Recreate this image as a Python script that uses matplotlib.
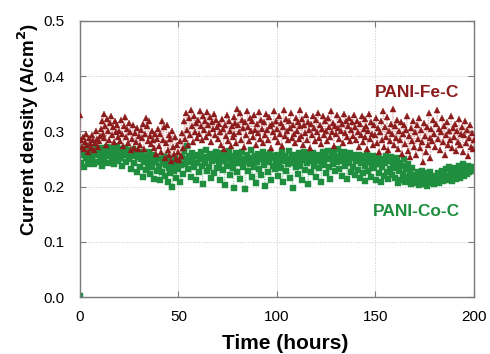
import matplotlib
matplotlib.use("Agg")
import matplotlib.pyplot as plt
import numpy as np

plt.rcParams['font.family'] = ['Liberation Sans', 'DejaVu Sans']

# sampling every half hour, 0 .. 200 h
time_h = np.arange(0, 200.5, 0.5)

# PANI-Fe-C current density (A/cm2)
fe_c = [
    0.330, 0.285, 0.272, 0.290, 0.268, 0.281, 0.295, 0.276, 0.262, 0.288, 0.279, 0.270, 0.293, 0.284, 0.266, 0.278, 0.300, 0.287, 0.271, 0.282,
    0.292, 0.305, 0.318, 0.296, 0.331, 0.288, 0.310, 0.276, 0.322, 0.300, 0.285, 0.315, 0.327, 0.293, 0.308, 0.280, 0.319, 0.298, 0.312, 0.289,
    0.301, 0.283, 0.320, 0.295, 0.273, 0.310, 0.326, 0.290, 0.304, 0.278, 0.315, 0.299, 0.266, 0.286, 0.312, 0.270, 0.297, 0.281, 0.306, 0.268,
    0.292, 0.275, 0.303, 0.288, 0.314, 0.268, 0.296, 0.325, 0.309, 0.282, 0.318, 0.291, 0.277, 0.300, 0.284, 0.270, 0.295, 0.259, 0.287, 0.305,
    0.273, 0.296, 0.262, 0.318, 0.284, 0.308, 0.251, 0.279, 0.312, 0.266, 0.294, 0.257, 0.287, 0.246, 0.301, 0.272, 0.259, 0.290, 0.249, 0.276,
    0.262, 0.248, 0.283, 0.255, 0.297, 0.270, 0.318, 0.286, 0.334, 0.302, 0.276, 0.324, 0.293, 0.339, 0.309, 0.281, 0.327, 0.298, 0.315, 0.288,
    0.321, 0.296, 0.337, 0.310, 0.284, 0.328, 0.303, 0.319, 0.290, 0.335, 0.312, 0.297, 0.326, 0.281, 0.316, 0.304, 0.332, 0.293, 0.320, 0.308,
    0.287, 0.314, 0.299, 0.276, 0.322, 0.305, 0.268, 0.311, 0.292, 0.330, 0.283, 0.318, 0.301, 0.274, 0.309, 0.289, 0.326, 0.296, 0.315, 0.279,
    0.341, 0.312, 0.298, 0.333, 0.285, 0.320, 0.306, 0.272, 0.316, 0.294, 0.337, 0.308, 0.282, 0.324, 0.300, 0.318, 0.290, 0.329, 0.303, 0.276,
    0.313, 0.297, 0.335, 0.286, 0.321, 0.305, 0.279, 0.317, 0.293, 0.331, 0.302, 0.284, 0.326, 0.310, 0.270, 0.314, 0.298, 0.336, 0.289, 0.319,
    0.304, 0.281, 0.327, 0.296, 0.315, 0.273, 0.308, 0.338, 0.291, 0.322, 0.300, 0.284, 0.318, 0.306, 0.333, 0.288, 0.312, 0.295, 0.278, 0.325,
    0.301, 0.316, 0.287, 0.339, 0.309, 0.292, 0.323, 0.275, 0.311, 0.297, 0.330, 0.285, 0.317, 0.303, 0.269, 0.314, 0.294, 0.328, 0.306, 0.283,
    0.320, 0.298, 0.334, 0.288, 0.312, 0.277, 0.305, 0.327, 0.293, 0.318, 0.301, 0.282, 0.324, 0.308, 0.290, 0.336, 0.299, 0.315, 0.274, 0.310,
    0.295, 0.329, 0.306, 0.286, 0.321, 0.300, 0.314, 0.279, 0.332, 0.297, 0.318, 0.289, 0.309, 0.325, 0.283, 0.303, 0.316, 0.292, 0.330, 0.307,
    0.285, 0.319, 0.298, 0.272, 0.313, 0.294, 0.327, 0.281, 0.305, 0.322, 0.290, 0.310, 0.268, 0.300, 0.331, 0.287, 0.316, 0.296, 0.276, 0.311,
    0.293, 0.324, 0.279, 0.306, 0.262, 0.299, 0.318, 0.285, 0.337, 0.271, 0.308, 0.290, 0.326, 0.266, 0.301, 0.283, 0.314, 0.296, 0.340, 0.275,
    0.309, 0.288, 0.321, 0.268, 0.300, 0.284, 0.316, 0.259, 0.295, 0.312, 0.277, 0.303, 0.328, 0.264, 0.291, 0.254, 0.306, 0.282, 0.319, 0.272,
    0.298, 0.257, 0.311, 0.286, 0.325, 0.269, 0.302, 0.280, 0.244, 0.315, 0.292, 0.262, 0.308, 0.276, 0.333, 0.288, 0.251, 0.304, 0.283, 0.320,
    0.296, 0.271, 0.313, 0.339, 0.287, 0.305, 0.266, 0.299, 0.324, 0.280, 0.310, 0.258, 0.294, 0.317, 0.275, 0.301, 0.285, 0.327, 0.270, 0.306,
    0.290, 0.314, 0.265, 0.300, 0.281, 0.322, 0.276, 0.296, 0.308, 0.262, 0.293, 0.318, 0.279, 0.302, 0.256, 0.288, 0.311, 0.272, 0.297, 0.268,
    0.284,
]

# PANI-Co-C current density (A/cm2)
co_c = [
    0.002, 0.242, 0.258, 0.268, 0.236, 0.262, 0.251, 0.270, 0.240, 0.265, 0.255, 0.272, 0.248, 0.263, 0.241, 0.267, 0.257, 0.269, 0.244, 0.260,
    0.266, 0.253, 0.238, 0.270, 0.259, 0.246, 0.268, 0.256, 0.271, 0.243, 0.264, 0.258, 0.269, 0.250, 0.262, 0.240, 0.267, 0.255, 0.273, 0.247,
    0.261, 0.268, 0.252, 0.238, 0.265, 0.257, 0.270, 0.244, 0.259, 0.266, 0.249, 0.262, 0.231, 0.255, 0.268, 0.242, 0.258, 0.264, 0.226, 0.253,
    0.262, 0.236, 0.249, 0.259, 0.218, 0.245, 0.256, 0.230, 0.251, 0.241, 0.262, 0.222, 0.247, 0.235, 0.257, 0.214, 0.244, 0.253, 0.228, 0.249,
    0.238, 0.212, 0.250, 0.227, 0.243, 0.256, 0.219, 0.239, 0.248, 0.209, 0.234, 0.252, 0.224, 0.245, 0.200, 0.237, 0.229, 0.251, 0.215, 0.241,
    0.232, 0.246, 0.208, 0.239, 0.253, 0.222, 0.264, 0.241, 0.250, 0.273, 0.231, 0.256, 0.244, 0.217, 0.260, 0.247, 0.235, 0.255, 0.212, 0.243,
    0.258, 0.226, 0.249, 0.262, 0.238, 0.205, 0.254, 0.243, 0.266, 0.229, 0.251, 0.236, 0.259, 0.215, 0.246, 0.257, 0.224, 0.248, 0.263, 0.233,
    0.252, 0.240, 0.211, 0.255, 0.261, 0.230, 0.246, 0.203, 0.257, 0.238, 0.250, 0.264, 0.221, 0.245, 0.256, 0.234, 0.198, 0.251, 0.242, 0.260,
    0.227, 0.248, 0.255, 0.214, 0.243, 0.262, 0.236, 0.250, 0.195, 0.244, 0.258, 0.229, 0.252, 0.240, 0.266, 0.218, 0.247, 0.235, 0.256, 0.207,
    0.245, 0.259, 0.232, 0.249, 0.221, 0.254, 0.263, 0.239, 0.201, 0.248, 0.257, 0.226, 0.244, 0.260, 0.212, 0.251, 0.237, 0.255, 0.231, 0.247,
    0.258, 0.219, 0.243, 0.252, 0.234, 0.262, 0.209, 0.246, 0.255, 0.228, 0.250, 0.240, 0.264, 0.216, 0.247, 0.256, 0.197, 0.243, 0.258, 0.235,
    0.251, 0.223, 0.260, 0.245, 0.238, 0.254, 0.211, 0.248, 0.263, 0.230, 0.256, 0.242, 0.204, 0.250, 0.259, 0.226, 0.246, 0.261, 0.237, 0.253,
    0.217, 0.247, 0.258, 0.233, 0.252, 0.208, 0.244, 0.262, 0.239, 0.255, 0.225, 0.249, 0.265, 0.236, 0.213, 0.251, 0.257, 0.241, 0.263, 0.228,
    0.254, 0.245, 0.268, 0.232, 0.250, 0.259, 0.219, 0.247, 0.262, 0.238, 0.256, 0.214, 0.249, 0.243, 0.260, 0.226, 0.252, 0.235, 0.257, 0.221,
    0.246, 0.253, 0.230, 0.258, 0.215, 0.242, 0.249, 0.224, 0.255, 0.237, 0.210, 0.247, 0.259, 0.228, 0.244, 0.251, 0.218, 0.238, 0.256, 0.233,
    0.248, 0.212, 0.240, 0.253, 0.225, 0.245, 0.209, 0.236, 0.250, 0.219, 0.242, 0.256, 0.227, 0.214, 0.247, 0.232, 0.254, 0.221, 0.239, 0.245,
    0.216, 0.234, 0.251, 0.206, 0.228, 0.243, 0.212, 0.237, 0.222, 0.249, 0.208, 0.231, 0.218, 0.240, 0.211, 0.226, 0.204, 0.233, 0.215, 0.209,
    0.221, 0.207, 0.214, 0.226, 0.203, 0.218, 0.210, 0.229, 0.205, 0.216, 0.212, 0.224, 0.201, 0.219, 0.208, 0.213, 0.227, 0.206, 0.217, 0.211,
    0.204, 0.220, 0.213, 0.209, 0.225, 0.207, 0.218, 0.214, 0.228, 0.210, 0.222, 0.216, 0.231, 0.212, 0.219, 0.235, 0.215, 0.224, 0.210, 0.229,
    0.218, 0.233, 0.213, 0.226, 0.221, 0.238, 0.216, 0.230, 0.224, 0.241, 0.219, 0.234, 0.228, 0.222, 0.237, 0.226, 0.232, 0.229, 0.236, 0.231,
    0.234,
]

fe_color = '#8c1c1c'
co_color = '#1f8f3f'

fig = plt.figure(figsize=(4.9, 3.54), dpi=100)
ax = fig.add_axes([0.163, 0.161, 0.804, 0.780])

ax.plot(time_h, fe_c, linestyle=':', linewidth=0.7, color='#dc9c9c',
        marker='^', markersize=5.0, markerfacecolor=fe_color,
        markeredgecolor=fe_color, markeredgewidth=0.3, zorder=3)
ax.plot(time_h, co_c, linestyle=':', linewidth=0.7, color='#93cfa2',
        marker='s', markersize=3.9, markerfacecolor=co_color,
        markeredgecolor=co_color, markeredgewidth=0.3, zorder=2)

ax.text(171, 0.371, 'PANI-Fe-C', color=fe_color, fontsize=12.5,
        fontweight='bold', ha='center', va='center')
ax.text(171, 0.154, 'PANI-Co-C', color=co_color, fontsize=12.5,
        fontweight='bold', ha='center', va='center')

ax.set_xlim(0, 200)
ax.set_ylim(0, 0.5)
ax.set_xticks([0, 50, 100, 150, 200])
ax.set_yticks([0.0, 0.1, 0.2, 0.3, 0.4, 0.5])
ax.set_yticklabels(['0.0', '0.1', '0.2', '0.3', '0.4', '0.5'])
ax.grid(True, linestyle=':', linewidth=0.7, color='#c8c8c8')
ax.set_axisbelow(True)

for s in ax.spines.values():
    s.set_color('#7a7a7a')
    s.set_linewidth(1.0)
ax.tick_params(direction='in', top=True, right=True, length=4,
               color='#7a7a7a', labelsize=11)
ax.tick_params(axis='x', pad=9)
ax.tick_params(axis='y', pad=11)

ax.set_xlabel('Time (hours)', fontsize=15, fontweight='bold')
ax.set_ylabel('Current density (A/cm$^\\mathbf{2}$)', fontsize=13.5,
              fontweight='bold')
ax.xaxis.set_label_coords(0.52, -0.135)
ax.yaxis.set_label_coords(-0.098, 0.605)

fig.savefig('out.png', dpi=100)
